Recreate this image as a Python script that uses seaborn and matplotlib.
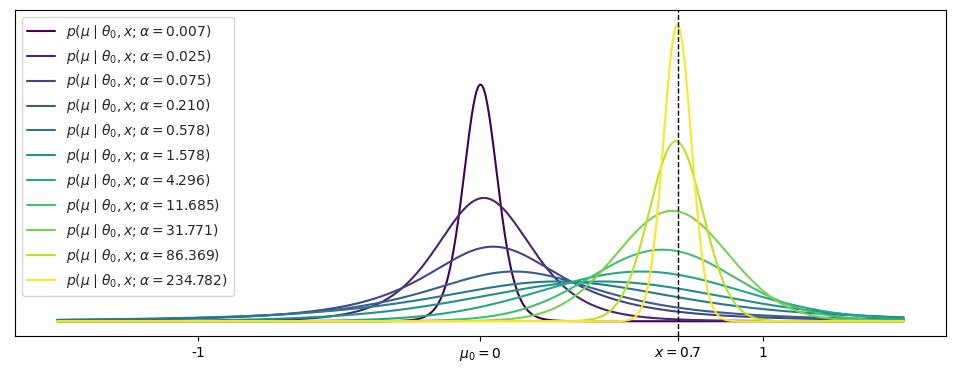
import numpy as np
import pandas as pd
import matplotlib
matplotlib.use("Agg")
import matplotlib.pyplot as plt
import seaborn as sns

# ---- data ----
alphas = [0.007, 0.025, 0.075, 0.210, 0.578, 1.578, 4.296, 11.685, 31.771, 86.369, 234.782]
# curve peak location (in mu units)
peak_loc = [0.000, 0.012, 0.045, 0.120, 0.270, 0.430, 0.570, 0.645, 0.680, 0.693, 0.698]
# relative peak height
peak_height = [238, 124, 75, 50, 40, 40, 50, 72, 111, 181, 298]
# spread (scale) of each curve
spread = [0.061, 0.175, 0.27, 0.35, 0.47, 0.45, 0.36, 0.26, 0.20, 0.096, 0.050]
# tail heaviness (degrees of freedom)
tail_df = [10, 5, 2, 2, 2.5, 10, 50, 50, 50, 50, 50]
mu0 = 0.0
x_obs = 0.7
tick_vals = [-1, 0, 0.7, 1]
tick_labels = ['-1', r'$\mu_0 = 0$', r'$x = 0.7$', '1']

mu = np.linspace(-1.5, 1.5, 1000)
rows = []
for a, m, h, s, nu in zip(alphas, peak_loc, peak_height, spread, tail_df):
    y = h * (1 + ((mu - m) / s) ** 2 / nu) ** (-(nu + 1) / 2)
    lab = r'$p(\mu \mid \theta_0, x; \alpha = %.3f)$' % a
    rows.append(pd.DataFrame({'mu': mu, 'p': y, 'label': lab}))
df = pd.concat(rows, ignore_index=True)
labels = [r'$p(\mu \mid \theta_0, x; \alpha = %.3f)$' % a for a in alphas]

sns.set_style("white")
plt.rcParams['axes.edgecolor'] = 'black'
plt.rcParams['axes.linewidth'] = 0.8
plt.rcParams['xtick.bottom'] = True
plt.rcParams['xtick.major.size'] = 3.5
plt.rcParams['xtick.major.width'] = 0.8

fig, ax = plt.subplots(figsize=(9.54, 3.73), dpi=100)
fig.subplots_adjust(left=0.0157, right=0.9916, top=0.973, bottom=0.099)

cmap = matplotlib.colormaps['viridis']
palette = [cmap(v) for v in np.linspace(0, 1, len(alphas))]
sns.lineplot(data=df, x='mu', y='p', hue='label', hue_order=labels,
             palette=palette, ax=ax, linewidth=1.5, sort=False)
ax.axvline(x_obs, color='black', linestyle='--', linewidth=1)

ax.set_xticks(tick_vals)
ax.set_xticklabels(tick_labels)
ax.set_yticks([])
ax.set_xlabel('')
ax.set_ylabel('')
ax.tick_params(axis='x', colors='black', labelsize=10)
for sp in ax.spines.values():
    sp.set_visible(True)
    sp.set_color('black')

ax.legend(loc='upper left', fontsize=10, frameon=True)

fig.savefig('out.png', dpi=100)
